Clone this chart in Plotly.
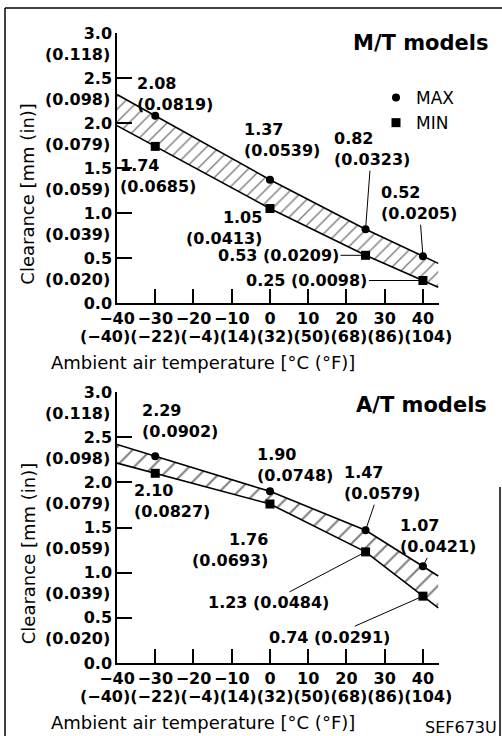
import plotly.graph_objects as go

# ---------------- data ----------------
temps_c = [-30, 0, 25, 40]

mt_max_mm = [2.08, 1.37, 0.82, 0.52]
mt_max_in = [0.0819, 0.0539, 0.0323, 0.0205]
mt_min_mm = [1.74, 1.05, 0.53, 0.25]
mt_min_in = [0.0685, 0.0413, 0.0209, 0.0098]

at_max_mm = [2.29, 1.90, 1.47, 1.07]
at_max_in = [0.0902, 0.0748, 0.0579, 0.0421]
at_min_mm = [2.10, 1.76, 1.23, 0.74]
at_min_in = [0.0827, 0.0693, 0.0484, 0.0291]

x_ticks_c = [-40, -30, -20, -10, 0, 10, 20, 30, 40]
x_ticks_f = [-40, -22, -4, 14, 32, 50, 68, 86, 104]
y_ticks_mm = [0.0, 0.5, 1.0, 1.5, 2.0, 2.5, 3.0]
y_ticks_in = [None, 0.020, 0.039, 0.059, 0.079, 0.098, 0.118]

panel_titles = ["M/T models", "A/T models"]
x_title = "Ambient air temperature [°C (°F)]"
y_title = "Clearance [mm (in)]"
fig_code = "SEF673U"

# ---------------- layout constants ----------------
W, H = 502, 736
ML, MR, MT, MB = 117, 63, 33, 73
PW, PH = W - ML - MR, H - MT - MB
X_LO, X_HI, X_END = -40, 44, 44.2
FONT = "DejaVu Sans"


def px_to_paper(px, py):
    return (px - ML) / PW, (H - MB - py) / PH


def minus(v):
    return f"{v:g}".replace("-", "\u2212")


def extend(xs, ys, lo, hi):
    s0 = (ys[1] - ys[0]) / (xs[1] - xs[0])
    s1 = (ys[-1] - ys[-2]) / (xs[-1] - xs[-2])
    return ([lo] + list(xs) + [hi],
            [ys[0] + s0 * (lo - xs[0])] + list(ys) + [ys[-1] + s1 * (hi - xs[-1])])


fig = go.Figure()

panels = [
    dict(xa="x", ya="y", mx=mt_max_mm, mxi=mt_max_in, mn=mt_min_mm, mni=mt_min_in,
         dom=[px_to_paper(0, 303)[1], 1.0], hatch=9, legend=True,
         place={("max", 0): (20, -22, False, "left"), ("min", 0): (3, 30, False, "left"),
                ("max", 1): (12, -40, False, "left"), ("min", 1): (-46, 19, False, "right"),
                ("max", 2): (6, -80, True, "left"), ("max", 3): (-4, -53, True, "left"),
                ("min", 2): (-87, 0, True, "one"), ("min", 3): (-116, 0, True, "one")},
         title_shift=-10),
    dict(xa="x2", ya="y2", mx=at_max_mm, mxi=at_max_in, mn=at_min_mm, mni=at_min_in,
         dom=[0.0, px_to_paper(0, 392)[1]], hatch=13, legend=False,
         place={("max", 0): (25, -35, False, "left"), ("min", 0): (17, 28, False, "left"),
                ("max", 1): (25, -26, False, "left"), ("min", 1): (-40, 46, False, "right"),
                ("max", 2): (16, -47, True, "left"), ("max", 3): (15, -30, True, "left"),
                ("min", 2): (-97, 51, True, "one"), ("min", 3): (-93, 41, True, "one")},
         title_shift=-13),
]

annotations = []
for i, p in enumerate(panels):
    xa, ya = p["xa"], p["ya"]
    ex, ey_max = extend(temps_c, p["mx"], X_LO, X_HI)
    _, ey_min = extend(temps_c, p["mn"], X_LO, X_HI)
    # hatched band
    fig.add_trace(go.Scatter(
        x=ex + ex[::-1], y=ey_max + ey_min[::-1], xaxis=xa, yaxis=ya,
        mode="lines", fill="toself", line=dict(width=0, color="rgba(0,0,0,0)"),
        fillcolor="white",
        fillpattern=dict(shape="/", size=p["hatch"], solidity=0.16, fgcolor="black", bgcolor="white"),
        showlegend=False, hoverinfo="skip"))
    for ey in (ey_max, ey_min):
        fig.add_trace(go.Scatter(x=ex, y=ey, xaxis=xa, yaxis=ya, mode="lines",
                                 line=dict(color="black", width=1.6), showlegend=False, hoverinfo="skip"))
    fig.add_trace(go.Scatter(x=temps_c, y=p["mx"], xaxis=xa, yaxis=ya, mode="markers", name="MAX",
                             marker=dict(symbol="circle", size=8, color="black"),
                             showlegend=p["legend"]))
    fig.add_trace(go.Scatter(x=temps_c, y=p["mn"], xaxis=xa, yaxis=ya, mode="markers", name="MIN",
                             marker=dict(symbol="square", size=9, color="black"),
                             showlegend=p["legend"]))

    # value labels
    for (kind, idx), (dx, dy, line, align) in p["place"].items():
        mm = (p["mx"] if kind == "max" else p["mn"])[idx]
        inch = (p["mxi"] if kind == "max" else p["mni"])[idx]
        if align == "one":
            text = f"{mm:.2f} ({inch:.4f})"
            al = "center"
        else:
            text = f"{mm:.2f}<br>({inch:.4f})"
            al = align
        base = dict(x=temps_c[idx], y=mm, xref=xa, yref=ya, text=text, align=al,
                    font=dict(family=FONT, size=16, color="black", weight="bold"))
        if line:
            base.update(showarrow=True, ax=dx, ay=dy, arrowhead=0, arrowwidth=1,
                        arrowcolor="black", standoff=0)
        else:
            base.update(showarrow=False, xshift=dx, yshift=-dy)
        annotations.append(base)

    # inch tick labels under each mm tick label
    for mmv, inv in zip(y_ticks_mm, y_ticks_in):
        if inv is None:
            continue
        annotations.append(dict(x=0, y=mmv, xref=f"{xa} domain", yref=ya, text=f"({inv:.3f})",
                                showarrow=False, xanchor="right", yanchor="middle", xshift=-5, yshift=-21,
                                font=dict(family=FONT, size=16, color="black", weight="bold")))
    # Fahrenheit row
    annotations.append(dict(x=(266 - ML) / PW, y=0, xref=f"{xa} domain", yref=f"{ya} domain",
                            text="".join(f"({minus(f)})" for f in x_ticks_f),
                            showarrow=False, xanchor="center", yanchor="middle", yshift=-33,
                            font=dict(family=FONT, size=16, color="black", weight="bold")))
    # axis titles
    annotations.append(dict(x=(203 - ML) / PW, y=0, xref=f"{xa} domain", yref=f"{ya} domain",
                            text=x_title, showarrow=False, xanchor="center", yanchor="middle",
                            yshift=-59, font=dict(family=FONT, size=18, color="black")))
    annotations.append(dict(x=(28 - ML) / PW, y=0.405, xref=f"{xa} domain", yref=f"{ya} domain",
                            text=y_title, textangle=-90, showarrow=False, xanchor="center",
                            yanchor="middle", font=dict(family=FONT, size=18, color="black")))
    # panel title
    annotations.append(dict(x=(421 - ML) / PW, y=1, xref=f"{xa} domain", yref=f"{ya} domain",
                            text=panel_titles[i], showarrow=False, xanchor="center", yanchor="middle",
                            yshift=p["title_shift"],
                            font=dict(family=FONT, size=21, color="black", weight="bold")))

cx, cy = px_to_paper(461, 727)
annotations.append(dict(x=cx, y=cy, xref="paper", yref="paper", text=fig_code, showarrow=False,
                        xanchor="center", yanchor="middle", font=dict(family=FONT, size=16, color="black")))

axis_common = dict(showgrid=False, zeroline=False, showline=True, linecolor="black", linewidth=1.5,
                   ticks="inside", tickcolor="black", tickwidth=1.5)
xaxis = dict(axis_common, range=[X_LO, X_END], tickvals=x_ticks_c, ticktext=[minus(v) for v in x_ticks_c],
             ticklen=14, tickfont=dict(family=FONT, size=16, color="black", weight="bold"))
yaxis = dict(axis_common, range=[0, 3.0], tickvals=y_ticks_mm, ticktext=[f"{v:.1f}" for v in y_ticks_mm],
             ticklen=15, tickfont=dict(family=FONT, size=16, color="black", weight="bold"))

shapes = []
for (x0, y0, x1, y1) in [(5, 8, 5, 745), (5, 8, 505, 8), (500, 487, 500, 745)]:
    a, b = px_to_paper(x0, y0)
    c, d = px_to_paper(x1, y1)
    shapes.append(dict(type="line", xref="paper", yref="paper", x0=a, y0=b, x1=c, y1=d,
                       line=dict(color="black", width=1.5)))

lx, ly = px_to_paper(376, 80)
fig.update_layout(
    width=W, height=H, autosize=False,
    margin=dict(l=ML, r=MR, t=MT, b=MB),
    paper_bgcolor="white", plot_bgcolor="white",
    xaxis=dict(xaxis, domain=[0, 1], anchor="y"),
    yaxis=dict(yaxis, domain=panels[0]["dom"], anchor="x"),
    xaxis2=dict(xaxis, domain=[0, 1], anchor="y2"),
    yaxis2=dict(yaxis, domain=panels[1]["dom"], anchor="x2"),
    annotations=annotations,
    shapes=shapes,
    showlegend=True,
    legend=dict(x=lx, y=ly, xanchor="left", yanchor="top", bgcolor="rgba(0,0,0,0)",
                font=dict(family=FONT, size=17, color="black"), tracegroupgap=0),
    font=dict(family=FONT, color="black"),
)

fig.write_html(
    "out.html",
    config={"displayModeBar": False},
    post_script="document.body.style.margin='0';document.body.style.overflow='hidden';",
)
